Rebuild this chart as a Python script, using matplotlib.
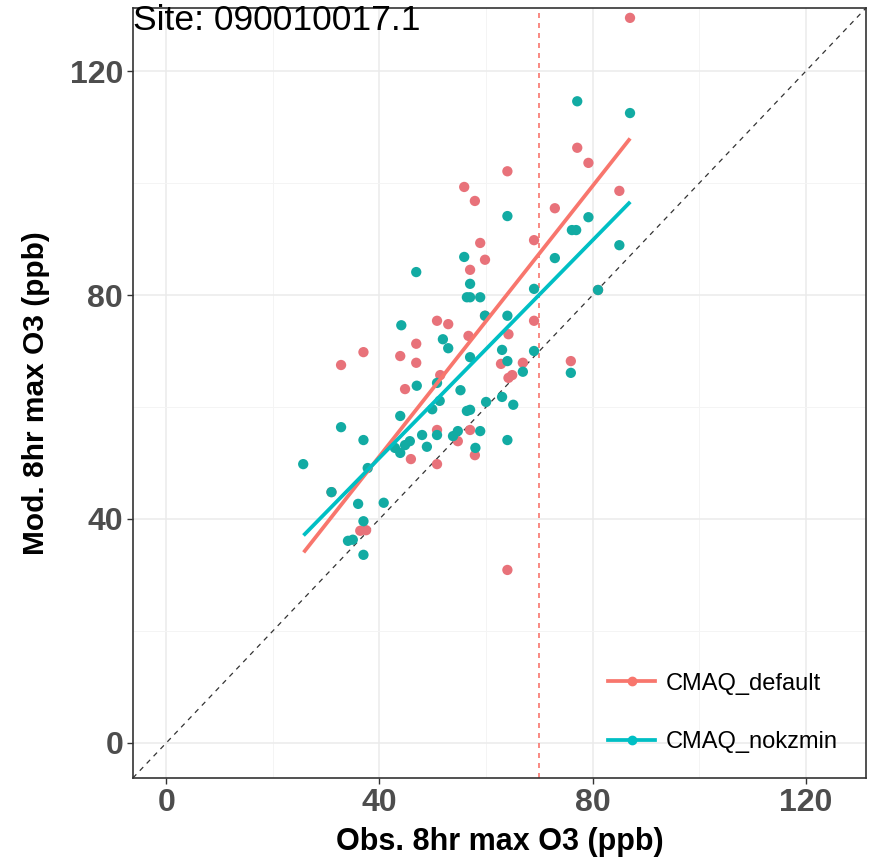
import matplotlib
matplotlib.use("Agg")
import matplotlib.pyplot as plt
from matplotlib.lines import Line2D
import numpy as np

plt.rcParams['font.family'] = ['Liberation Sans', 'DejaVu Sans']

# ---- data ----
obs_default = [87.0, 77.1, 79.2, 85.0, 64.0, 55.9, 57.9, 72.9, 69.0, 58.9,
               59.8, 57.0, 69.0, 59.8, 50.8, 52.9, 56.7, 46.9, 43.9, 46.9,
               37.0, 32.8, 44.8, 50.8, 45.9, 50.8, 54.7, 62.8, 66.9, 64.2,
               64.9, 57.0, 57.9, 64.0, 75.9, 81.0, 36.4, 37.5, 31.0, 51.4,
               64.2]
mod_default = [129.5, 106.3, 103.6, 98.6, 102.1, 99.3, 96.8, 95.5, 89.8, 89.3,
               86.3, 84.5, 75.4, 76.3, 75.4, 74.8, 72.7, 71.3, 69.1, 67.9,
               69.8, 67.5, 63.2, 55.9, 50.7, 49.8, 53.9, 67.7, 67.9, 65.2,
               65.7, 55.9, 51.4, 30.9, 68.2, 80.9, 37.9, 38.0, 44.8, 65.7,
               73.0]

obs_nokzmin = [25.7, 31.0, 32.8, 37.0, 36.0, 40.8, 37.0, 34.1, 35.0, 37.0,
               37.8, 43.9, 44.1, 46.9, 47.0, 50.8, 51.9, 52.9, 48.0, 48.9,
               50.8, 51.3, 49.9, 53.8, 54.7, 56.4, 55.9, 56.4, 57.0, 57.0,
               58.9, 59.8, 57.0, 64.0, 64.0, 63.0, 64.0, 69.0, 69.0, 66.9,
               63.0, 60.0, 65.1, 57.0, 58.9, 64.0, 58.0, 72.9, 76.1, 76.9,
               79.2, 85.0, 81.0, 77.1, 87.0, 75.9, 42.9, 44.8, 45.7, 43.9,
               55.2]
mod_nokzmin = [49.8, 44.8, 56.4, 54.1, 42.7, 42.9, 39.6, 36.1, 36.3, 33.6,
               49.1, 58.4, 74.6, 84.1, 63.8, 64.3, 72.1, 70.5, 55.0, 52.9,
               55.0, 61.1, 59.6, 54.8, 55.7, 59.3, 86.8, 79.6, 82.0, 79.6,
               79.6, 76.3, 68.9, 94.1, 76.3, 70.2, 68.2, 81.1, 70.0, 66.3,
               61.8, 60.9, 60.4, 59.5, 55.7, 54.1, 52.7, 86.6, 91.6, 91.6,
               93.9, 88.9, 80.9, 114.6, 112.5, 66.1, 52.7, 53.2, 53.9, 51.8,
               63.0]

# linear-fit lines (endpoints)
fit_x = [26.0, 86.8]
fit_default = [34.3, 107.7]
fit_nokzmin = [37.3, 96.4]

standard = 70
site_label = "Site: 090010017.1"
series_names = ["CMAQ_default", "CMAQ_nokzmin"]
colors = ["#F8766D", "#00BFC4"]
pt_colors = ["#E8727A", "#12ABA3"]

ticks = [0, 40, 80, 120]
minor_ticks = [20, 60, 100]
lim = (-6.25, 131.25)

# ---- figure ----
fig = plt.figure(figsize=(8.8, 8.67), dpi=100)
ax = fig.add_axes([0.151, 0.1027, 0.833, 0.888])

ax.set_xlim(lim)
ax.set_ylim(lim)
ax.set_xticks(ticks)
ax.set_yticks(ticks)
ax.set_xticks(minor_ticks, minor=True)
ax.set_yticks(minor_ticks, minor=True)
ax.grid(True, which='major', color='#EBEBEB', lw=1.1)
ax.grid(True, which='minor', color='#F4F4F4', lw=0.7)
ax.set_axisbelow(True)
ax.tick_params(which='minor', length=0)
ax.tick_params(which='major', length=4, width=1, color='#333333',
               labelsize=23, labelcolor='#4D4D4D', pad=3)
for lab in ax.get_xticklabels() + ax.get_yticklabels():
    lab.set_fontweight('bold')
for s in ax.spines.values():
    s.set_color('#333333')
    s.set_linewidth(1.2)

# 1:1 line
ax.plot(lim, lim, ls=(0, (4, 4)), color='#333333', lw=0.9, zorder=1)
# standard line
ax.axvline(standard, color=colors[0], ls=(0, (3, 3)), lw=1.2, zorder=1)

ax.scatter(obs_default, mod_default, s=55, color=pt_colors[0], zorder=2,
           edgecolors='none')
ax.scatter(obs_nokzmin, mod_nokzmin, s=55, color=pt_colors[1], zorder=3,
           edgecolors='none')

ax.plot(fit_x, fit_default, color=colors[0], lw=2.7, zorder=4)
ax.plot(fit_x, fit_nokzmin, color=colors[1], lw=2.7, zorder=4)

ax.text(0.0, 1.005, site_label, transform=ax.transAxes, ha='left', va='top',
        fontsize=25.5, color='black')

ax.set_xlabel("Obs. 8hr max O3 (ppb)", fontsize=22, fontweight='bold',
              labelpad=7)
ax.set_ylabel("Mod. 8hr max O3 (ppb)", fontsize=21.5, fontweight='bold',
              labelpad=14)

handles = [Line2D([], [], color=c, lw=2.7, marker='o', markersize=6)
           for c in colors]
leg = ax.legend(handles, series_names, loc='lower left', frameon=False,
                fontsize=17, handlelength=2.0, handletextpad=0.45,
                labelspacing=1.55, borderpad=0, borderaxespad=0,
                bbox_to_anchor=(0.648, 0.032))

fig.savefig("out.png", dpi=100)
